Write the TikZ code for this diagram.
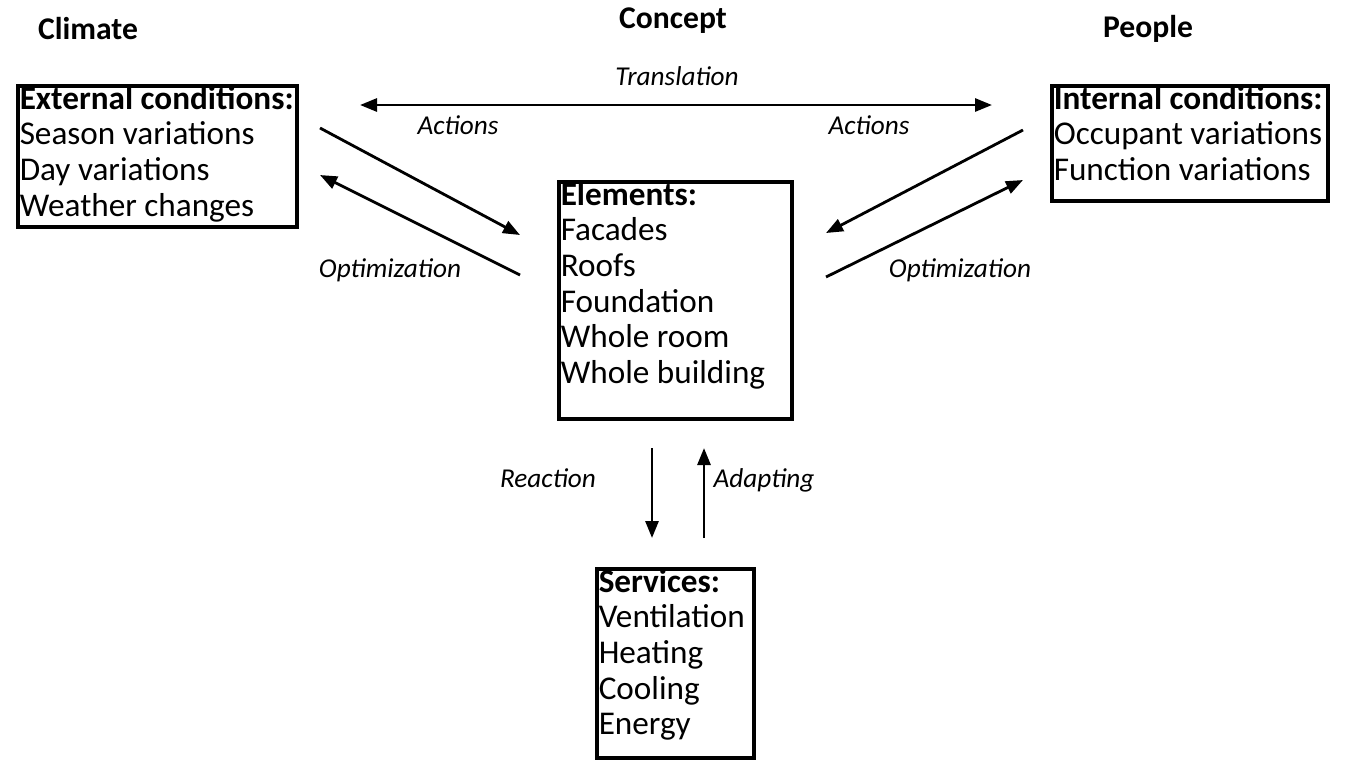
\documentclass[tikz,border=0pt]{standalone}
\usepackage{fontspec}
\setmainfont{Carlito}
\usetikzlibrary{arrows.meta}

\begin{document}
\begin{tikzpicture}[x=0.02cm, y=-0.02cm,
    box/.style={draw, line width=0.08cm, inner sep=1pt, inner ysep=0pt, anchor=north west, font=\fontsize{18.9}{20.26}\selectfont},
    head/.style={font=\fontsize{18}{20}\selectfont\bfseries},
    lbl/.style={font=\fontsize{15.5}{18}\selectfont\itshape, text height=1.6ex, text depth=0.4ex},
    arr/.style={line width=1.6pt, -{Triangle[length=0.34cm, width=0.26cm]}}]
    \useasboundingbox (0,0) rectangle (1348,762);
    % headings
    \node[head] (climate) at (88,29) {Climate};
    \node[head] (concept) at (673,21) {Concept};
    \node[head] (people) at (1148,29) {People};
    % boxes
    \node[box] (ext) at (16,84) {\parbox[t][2.83cm][t]{5.52cm}{\textbf{External conditions:}\\Season variations\\Day variations\\Weather changes}};
    \node[box] (int) at (1050,84) {\parbox[t][2.31cm][t]{5.46cm}{\textbf{Internal conditions:}\\Occupant variations\\Function variations}};
    \node[box] (elem) at (557,180) {\parbox[t][4.75cm][t]{4.60cm}{\textbf{Elements:}\\Facades\\Roofs\\Foundation\\Whole room\\Whole building}};
    \node[box] (serv) at (595,567) {\parbox[t][3.79cm][t]{3.08cm}{\textbf{Services:}\\Ventilation\\Heating\\Cooling\\Energy}};
    % arrow ends
    \coordinate (trL) at (360,105);
    \coordinate (trR) at (992,105);
    \coordinate (actLa) at (320,128);
    \coordinate (actLb) at (520,235);
    \coordinate (optLa) at (520,275);
    \coordinate (optLb) at (320,175);
    \coordinate (actRa) at (1023,130);
    \coordinate (actRb) at (826,233);
    \coordinate (optRa) at (826,277);
    \coordinate (optRb) at (1023,180);
    \coordinate (reaA) at (652,448);
    \coordinate (reaB) at (652,538);
    \coordinate (adaA) at (704,538);
    \coordinate (adaB) at (704,448);
    \draw[arr, {Triangle[length=0.34cm, width=0.26cm]}-{Triangle[length=0.34cm, width=0.26cm]}] (trL) -- (trR);
    \foreach \a/\b in {actLa/actLb, optLa/optLb, actRa/actRb, optRa/optRb, reaA/reaB, adaA/adaB}
        \draw[arr] (\a) -- (\b);
    % labels
    \node[lbl] (ltr) at (677,80) {Translation};
    \node[lbl] (lactL) at (458,129) {Actions};
    \node[lbl] (lactR) at (869,129) {Actions};
    \node[lbl] (loptL) at (390,272) {Optimization};
    \node[lbl] (loptR) at (960,272) {Optimization};
    \node[lbl] (lrea) at (548,482) {Reaction};
    \node[lbl] (lada) at (764,482) {Adapting};
\end{tikzpicture}
\end{document}
